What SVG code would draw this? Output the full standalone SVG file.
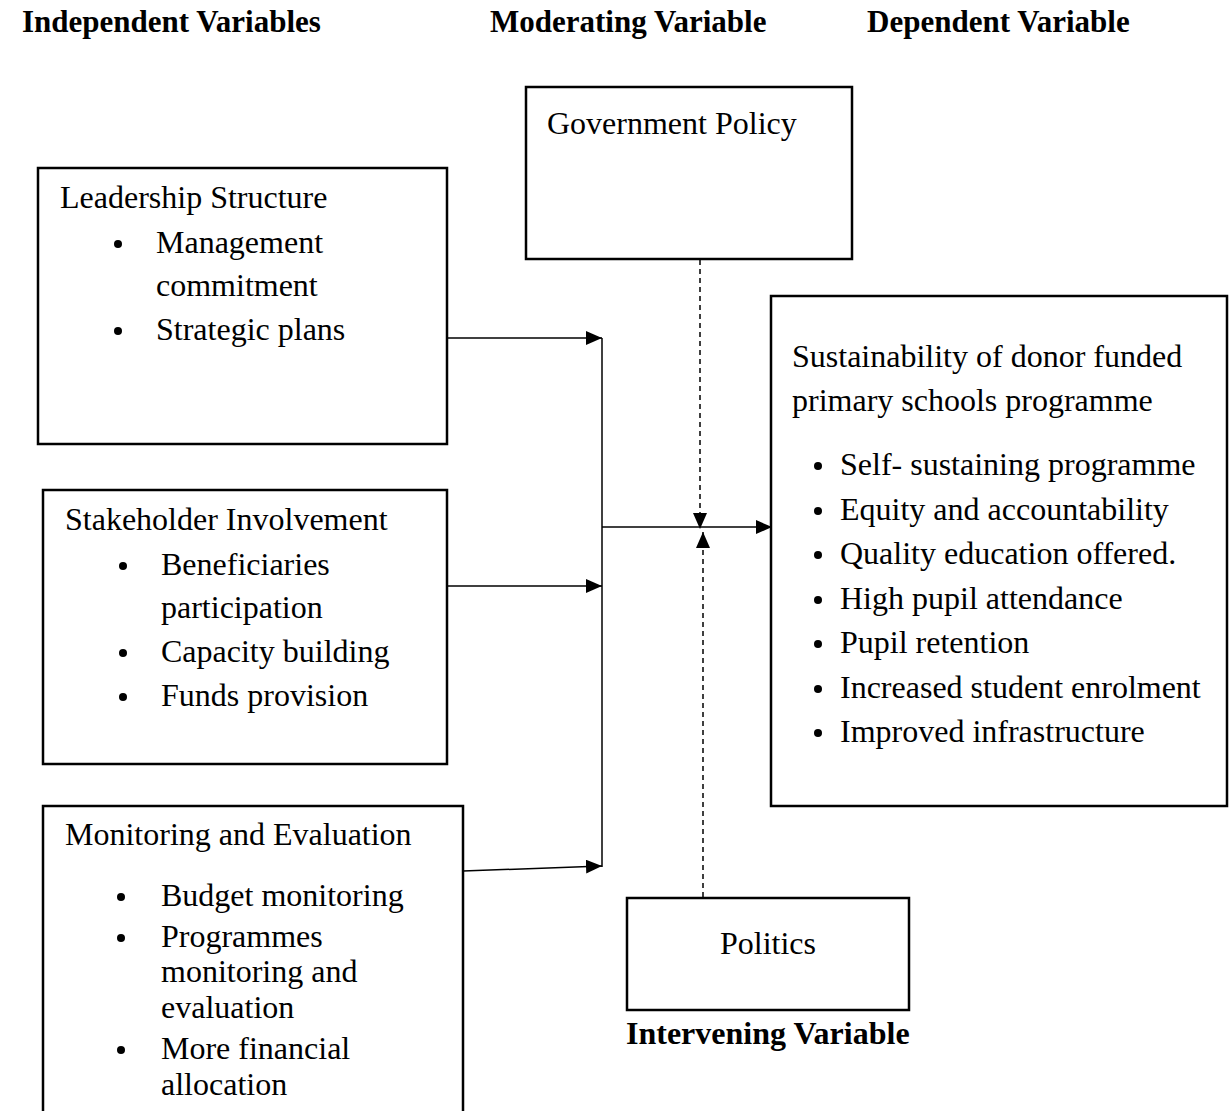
<svg xmlns="http://www.w3.org/2000/svg" width="1230" height="1111" viewBox="0 0 1230 1111">
<style>
text{font-family:"Liberation Serif","Times New Roman",serif;font-size:32px;fill:#000}
.h{font-weight:bold;font-size:31px}
.box{fill:#fff;stroke:#000;stroke-width:2.5}
.ln{stroke:#000;stroke-width:1.5;fill:none}
.dash{stroke:#000;stroke-width:1.5;fill:none;stroke-dasharray:5,4}
.dot{fill:#000}
</style>
<defs>
<marker id="arr" markerWidth="12" markerHeight="12" viewBox="0 0 12 12" refX="12" refY="6" orient="auto" markerUnits="userSpaceOnUse">
<path d="M0,0 L12,6 L0,12 Z" fill="#000"/>
</marker>
<marker id="arr2" markerWidth="16" markerHeight="14" viewBox="0 0 16 14" refX="16" refY="7" orient="auto" markerUnits="userSpaceOnUse">
<path d="M0,0 L16,7 L0,14 Z" fill="#000"/>
</marker>
</defs>
<g id="headers">
<text class="h" x="22" y="32">Independent Variables</text>
<text class="h" x="490" y="32">Moderating Variable</text>
<text class="h" x="867" y="32">Dependent Variable</text>
</g>
<g id="connectors">
<line class="ln" x1="602" y1="338" x2="602" y2="867"/>
<line class="ln" x1="447" y1="338" x2="602" y2="338" marker-end="url(#arr2)"/>
<line class="ln" x1="447" y1="586" x2="602" y2="586" marker-end="url(#arr2)"/>
<line class="ln" x1="463" y1="871" x2="602" y2="866" marker-end="url(#arr2)"/>
<line class="ln" x1="602" y1="527" x2="772" y2="527" marker-end="url(#arr2)"/>
<line class="dash" x1="700" y1="260" x2="700" y2="529" marker-end="url(#arr2)"/>
<line class="dash" x1="703" y1="897" x2="703" y2="532" marker-end="url(#arr2)"/>
</g>
<g id="gov">
<rect class="box" x="526" y="87" width="326" height="172"/>
<text x="547" y="134">Government Policy</text>
</g>
<g id="leadership">
<rect class="box" x="38" y="168" width="409" height="276"/>
<text x="60" y="208">Leadership Structure</text>
<circle class="dot" cx="118" cy="244" r="4"/>
<text x="156" y="253">Management</text>
<text x="156" y="296">commitment</text>
<circle class="dot" cx="118" cy="331" r="4"/>
<text x="156" y="340">Strategic plans</text>
</g>
<g id="stakeholder">
<rect class="box" x="43" y="490" width="404" height="274"/>
<text x="65" y="530">Stakeholder Involvement</text>
<circle class="dot" cx="123" cy="566" r="4"/>
<text x="161" y="575">Beneficiaries</text>
<text x="161" y="618">participation</text>
<circle class="dot" cx="123" cy="653" r="4"/>
<text x="161" y="662">Capacity building</text>
<circle class="dot" cx="123" cy="697" r="4"/>
<text x="161" y="706">Funds provision</text>
</g>
<g id="me">
<rect class="box" x="43" y="806" width="420" height="330"/>
<text x="65" y="845">Monitoring and Evaluation</text>
<circle class="dot" cx="121" cy="897" r="4"/>
<text x="161" y="906">Budget monitoring</text>
<circle class="dot" cx="121" cy="938" r="4"/>
<text x="161" y="947">Programmes</text>
<text x="161" y="982">monitoring and</text>
<text x="161" y="1018">evaluation</text>
<circle class="dot" cx="121" cy="1050" r="4"/>
<text x="161" y="1059">More financial</text>
<text x="161" y="1095">allocation</text>
</g>
<g id="dependent">
<rect class="box" x="771" y="296" width="456" height="510"/>
<text x="792" y="367">Sustainability of donor funded</text>
<text x="792" y="411">primary schools programme</text>
<circle class="dot" cx="818" cy="466" r="4"/>
<text x="840" y="475">Self- sustaining programme</text>
<circle class="dot" cx="818" cy="511" r="4"/>
<text x="840" y="520">Equity and accountability</text>
<circle class="dot" cx="818" cy="555" r="4"/>
<text x="840" y="564">Quality education offered.</text>
<circle class="dot" cx="818" cy="600" r="4"/>
<text x="840" y="609">High pupil attendance</text>
<circle class="dot" cx="818" cy="644" r="4"/>
<text x="840" y="653">Pupil retention</text>
<circle class="dot" cx="818" cy="689" r="4"/>
<text x="840" y="698">Increased student enrolment</text>
<circle class="dot" cx="818" cy="733" r="4"/>
<text x="840" y="742">Improved infrastructure</text>
</g>
<g id="politics">
<rect class="box" x="627" y="898" width="282" height="112"/>
<text x="768" y="954" text-anchor="middle">Politics</text>
<text class="h" x="626" y="1044" style="font-size:32px">Intervening Variable</text>
</g>
</svg>
